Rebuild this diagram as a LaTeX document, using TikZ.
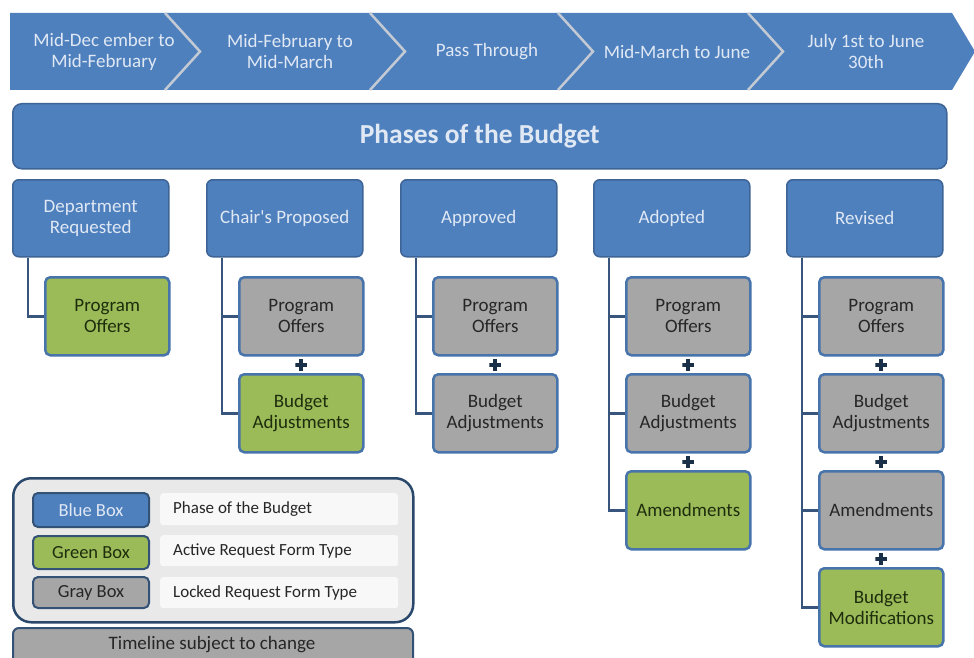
\documentclass[tikz,border=0pt]{standalone}
\usepackage{fontspec}
\setmainfont{Carlito}
\usetikzlibrary{calc}
\definecolor{hblue}{RGB}{78,128,190}
\definecolor{hborder}{RGB}{62,100,150}
\definecolor{sepc}{RGB}{196,202,212}
\definecolor{gfill}{RGB}{155,187,89}
\definecolor{grfill}{RGB}{166,166,166}
\definecolor{subborder}{RGB}{72,116,172}
\definecolor{conn}{RGB}{55,85,125}
\definecolor{plusc}{RGB}{25,48,72}
\definecolor{htext}{RGB}{224,232,244}
\definecolor{legbg}{RGB}{233,233,233}
\definecolor{legborder}{RGB}{42,72,108}
\definecolor{keyborder}{RGB}{52,82,118}
\definecolor{gtext}{RGB}{30,45,12}
\definecolor{dtext}{RGB}{38,38,38}
\definecolor{descbg}{RGB}{248,248,248}
\tikzset{
  tltext/.style={text=htext, font=\fontsize{19}{21}\selectfont, align=center, inner sep=0},
  phase/.style={draw=hborder, line width=1.5pt, fill=hblue, rounded corners=6pt,
    minimum width=156pt, minimum height=77pt, text=htext, anchor=north west,
    font=\fontsize{19}{21}\selectfont, align=center, inner sep=0},
  subbox/.style={draw=subborder, line width=2.5pt, rounded corners=5pt, anchor=north west,
    minimum width=124pt, minimum height=78pt, align=center, inner sep=0,
    font=\fontsize{19}{21}\selectfont},
  greenbox/.style={subbox, fill=gfill, text=gtext},
  graybox/.style={subbox, fill=grfill, text=dtext},
  conline/.style={draw=conn, line width=2.5pt},
  plussign/.style={minimum size=12pt, inner sep=0,
    path picture={\draw[plusc, line width=4pt]
      (path picture bounding box.north) -- (path picture bounding box.south)
      (path picture bounding box.west) -- (path picture bounding box.east);}},
  keybox/.style={draw=keyborder, line width=2pt, rounded corners=5pt, anchor=north west,
    minimum width=116pt, inner sep=0, font=\fontsize{18.5}{20}\selectfont},
  descbox/.style={fill=descbg, rounded corners=3pt, anchor=north west, minimum width=238pt,
    inner sep=0},
  desctext/.style={anchor=west, inner sep=0, font=\fontsize{17}{19}\selectfont, text=dtext},
}
\begin{document}
\begin{tikzpicture}[x=1pt, y=-1pt]
\useasboundingbox (0,0) rectangle (974,658);
\clip (0,0) rectangle (974,658);
\fill[white] (0,0) rectangle (974,658);

% timeline band
\fill[hblue] (10,13) -- (952,13) -- (975,51.5) -- (952,90) -- (10,90) -- cycle;
\foreach \s in {165,370,558,748}{
  \draw[sepc, line width=2.5pt, line join=miter] (\s,13) -- (\s+35,51.5) -- (\s,90);
}
\node[tltext] (t1) at (104,51.5) {Mid-Dec ember to\\Mid-February};
\node[tltext] (t2) at (290,51.5) {Mid-February to\\Mid-March};
\node[tltext] (t3) at (487,51.5) {Pass Through};
\node[tltext] (t4) at (677,51.5) {Mid-March to June};
\node[tltext] (t5) at (866,51.5) {July 1st to June\\30th};

% title bar
\node[draw=hborder, line width=1.5pt, fill=hblue, rounded corners=9pt, anchor=north west,
  minimum width=934pt, minimum height=65pt, inner sep=0, text=htext,
  font=\fontsize{27.5}{30}\selectfont\bfseries] (title) at (12,103) {Phases of the Budget};

% phase boxes
\node[phase] (dep) at (12,179) {Department\\Requested};
\node[phase] (cha) at (206,179) {Chair\textquotesingle s Proposed};
\node[phase] (app) at (400,179) {Approved};
\node[phase] (ado) at (593,179) {Adopted};
\node[phase] (rev) at (786,179) {Revised};

% sub boxes
\node[greenbox] (dep1) at (44,276) {Program\\Offers};

\node[graybox] (cha1) at (238,276) {Program\\Offers};
\node[greenbox] (cha2) at (238,373) {Budget\\Adjustments};

\node[graybox] (app1) at (432,276) {Program\\Offers};
\node[graybox] (app2) at (432,373) {Budget\\Adjustments};

\node[graybox] (ado1) at (625,276) {Program\\Offers};
\node[graybox] (ado2) at (625,373) {Budget\\Adjustments};
\node[greenbox] (ado3) at (625,470) {Amendments};

\node[graybox] (rev1) at (818,276) {Program\\Offers};
\node[graybox] (rev2) at (818,373) {Budget\\Adjustments};
\node[graybox] (rev3) at (818,470) {Amendments};
\node[greenbox] (rev4) at (818,567) {Budget\\Modifications};

% connectors
\coordinate (depc) at ($(dep.south west)+(16,0)$);
\coordinate (chac) at ($(cha.south west)+(16,0)$);
\coordinate (appc) at ($(app.south west)+(16,0)$);
\coordinate (adoc) at ($(ado.south west)+(16,0)$);
\coordinate (revc) at ($(rev.south west)+(16,0)$);
\draw[conline] (depc) |- (dep1.west);
\draw[conline] (chac) |- (cha2.west);
\draw[conline] (chac) |- (cha1.west);
\draw[conline] (appc) |- (app2.west);
\draw[conline] (appc) |- (app1.west);
\draw[conline] (adoc) |- (ado3.west);
\draw[conline] (adoc) |- (ado2.west);
\draw[conline] (adoc) |- (ado1.west);
\draw[conline] (revc) |- (rev4.west);
\draw[conline] (revc) |- (rev3.west);
\draw[conline] (revc) |- (rev2.west);
\draw[conline] (revc) |- (rev1.west);

% plus signs
\node[plussign] (pc1) at ($(cha1.south)!0.5!(cha2.north)$) {};
\node[plussign] (pa1) at ($(app1.south)!0.5!(app2.north)$) {};
\node[plussign] (pd1) at ($(ado1.south)!0.5!(ado2.north)$) {};
\node[plussign] (pd2) at ($(ado2.south)!0.5!(ado3.north)$) {};
\node[plussign] (pr1) at ($(rev1.south)!0.5!(rev2.north)$) {};
\node[plussign] (pr2) at ($(rev2.south)!0.5!(rev3.north)$) {};
\node[plussign] (pr3) at ($(rev3.south)!0.5!(rev4.north)$) {};

% legend
\node[draw=legborder, line width=2.5pt, fill=legbg, rounded corners=18pt, anchor=north west,
  minimum width=400pt, minimum height=144pt, inner sep=0] (legend) at (12,477) {};
\node[keybox, fill=hblue, text=htext, minimum height=34pt] (kb) at (32,492) {Blue Box};
\node[keybox, fill=gfill, text=gtext, minimum height=33pt] (kg) at (32,535) {Green Box};
\node[keybox, fill=grfill, text=dtext, minimum height=31pt] (ky) at (32,576) {Gray Box};
\node[descbox, minimum height=32pt] (db) at (160,493) {};
\node[descbox, minimum height=31pt] (dg) at (160,535) {};
\node[descbox, minimum height=31pt] (dy) at (160,577) {};
\node[desctext] (dbt) at (173,509) {Phase of the Budget};
\node[desctext] (dgt) at (173,550.5) {Active Request Form Type};
\node[desctext] (dyt) at (173,592.5) {Locked Request Form Type};

% footer
\node[draw=keyborder, line width=2pt, fill=grfill, rounded corners=6pt, anchor=north west,
  minimum width=400pt, minimum height=40pt, inner sep=0] (foot) at (12,627) {};
\node[font=\fontsize{19}{21}\selectfont, text=dtext, inner sep=0] (foott) at (212,645) {Timeline subject to change};
\end{tikzpicture}
\end{document}
